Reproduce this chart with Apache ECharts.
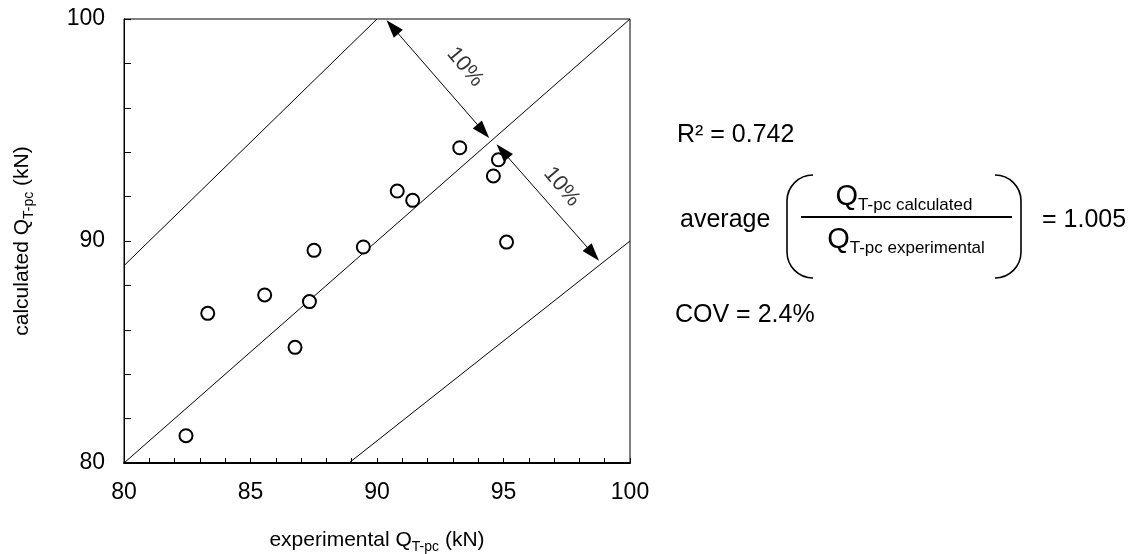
<!DOCTYPE html>
<html>
<head>
<meta charset="utf-8">
<script src="https://cdn.jsdelivr.net/npm/echarts@6/dist/echarts.min.js"></script>
<style>
html,body{margin:0;padding:0;background:#fff;}
#chart{width:1133px;height:554px;}
</style>
</head>
<body>
<div id="chart"></div>
<script>
// ---- data ----
var experimental = [82.45, 83.31, 85.56, 86.76, 87.33, 87.51, 89.46, 90.80, 91.41, 93.27, 94.60, 94.80, 95.12];
var calculated   = [81.23, 86.74, 87.57, 85.21, 87.27, 89.58, 89.73, 92.25, 91.83, 94.20, 92.93, 93.66, 89.95];
var xTickLabels = [80, 85, 90, 95, 100];
var yTickLabels = [80, 90, 100];
var lineEqual = [[80, 80], [100, 100]];
var linePlus10 = [[80, 88.89], [90, 100]];
var lineMinus10 = [[88.89, 80], [100, 90]];
// arrow segments (arrowhead centres)
var arrowUpper = [[90.61, 99.64], [94.20, 94.94]];
var arrowLower = [[94.96, 94.05], [98.54, 89.42]];
var pctLabelPos = [[93.48, 97.84], [97.30, 92.45]];
var pctLabelText = '10%';
var statR2 = 'R² = 0.742';
var statAvg = '= 1.005';
var statCov = 'COV = 2.4%';

var FF = '"Liberation Sans", Arial, sans-serif';
var chart = echarts.init(document.getElementById('chart'));

function refLine(d) {
  return {
    type: 'line', data: d, symbol: 'none', silent: true, z: 1,
    lineStyle: { color: '#000', width: 1 }
  };
}

var subRich = {
  s: { fontSize: 14, fontFamily: FF, color: '#000', verticalAlign: 'bottom', lineHeight: 14 }
};

var option = {
  animation: false,
  backgroundColor: '#fff',
  grid: { left: 124, right: 503, top: 19, bottom: 91, outerBoundsMode: 'none', containLabel: false,
          show: true, borderColor: '#000', borderWidth: 1, backgroundColor: 'transparent' },
  xAxis: {
    type: 'value', min: 80, max: 100, interval: 1,
    name: 'experimental Q{s|T-pc} (kN)', nameLocation: 'middle', nameGap: 63,
    nameTextStyle: { fontSize: 21, fontFamily: FF, color: '#000', lineHeight: 28, rich: subRich },
    axisLine: { show: true, lineStyle: { color: '#000', width: 2 } },
    axisTick: { show: true, inside: true, length: 5, lineStyle: { color: '#000', width: 1 } },
    splitLine: { show: false },
    axisLabel: {
      fontSize: 23, fontFamily: FF, color: '#000', margin: 18, showMaxLabel: true, showMinLabel: true,
      formatter: function (v) { return xTickLabels.indexOf(v) >= 0 ? String(v) : ''; }
    }
  },
  yAxis: {
    type: 'value', min: 80, max: 100, interval: 2,
    name: 'calculated Q{s|T-pc} (kN)', nameLocation: 'middle', nameGap: 88, nameRotate: 90,
    nameTextStyle: { fontSize: 21, fontFamily: FF, color: '#000', lineHeight: 28, rich: subRich },
    axisLine: { show: true, lineStyle: { color: '#000', width: 1 } },
    axisTick: { show: true, inside: true, length: 7, lineStyle: { color: '#000', width: 1 } },
    splitLine: { show: false },
    axisLabel: {
      fontSize: 23, fontFamily: FF, color: '#000', margin: 19, showMaxLabel: true, showMinLabel: true,
      formatter: function (v) { return yTickLabels.indexOf(v) >= 0 ? String(v) : ''; }
    }
  },
  series: [
    refLine(lineEqual),
    refLine(linePlus10),
    refLine(lineMinus10),
    {
      type: 'scatter', z: 3,
      data: experimental.map(function (x, i) { return [x, calculated[i]]; }),
      symbol: 'circle', symbolSize: 13,
      itemStyle: { color: '#fff', borderColor: '#000', borderWidth: 2, opacity: 1 },
      markLine: {
        silent: true, symbol: ['triangle', 'triangle'], symbolSize: [12, 18],
        lineStyle: { color: '#000', width: 1, type: 'solid' },
        itemStyle: { color: '#000' },
        label: { show: false },
        data: [
          [{ coord: arrowUpper[0] }, { coord: arrowUpper[1] }],
          [{ coord: arrowLower[0] }, { coord: arrowLower[1] }]
        ]
      }
    },
    {
      type: 'scatter', z: 4, silent: true,
      data: pctLabelPos,
      symbolSize: 0,
      label: {
        show: true, position: 'inside', formatter: pctLabelText, rotate: -50,
        fontSize: 22, fontFamily: FF, color: '#000'
      }
    }
  ],
  graphic: [
    { type: 'text', x: 677, y: 135, style: { text: statR2, fontSize: 25, fontFamily: FF, fill: '#000', align: 'left', verticalAlign: 'middle' } },
    { type: 'text', x: 680, y: 220, style: { text: 'average', fontSize: 25, fontFamily: FF, fill: '#000', align: 'left', verticalAlign: 'middle' } },
    { type: 'text', x: 1042, y: 220, style: { text: statAvg, fontSize: 25, fontFamily: FF, fill: '#000', align: 'left', verticalAlign: 'middle' } },
    { type: 'text', x: 675, y: 315, style: { text: statCov, fontSize: 25, fontFamily: FF, fill: '#000', align: 'left', verticalAlign: 'middle' } },
    { type: 'text', x: 904, y: 197, style: {
        text: '{q|Q}{s|T-pc calculated}', align: 'center', verticalAlign: 'middle', fill: '#000',
        rich: { q: { fontSize: 29, fontFamily: FF, lineHeight: 34 }, s: { fontSize: 17, fontFamily: FF, lineHeight: 17, verticalAlign: 'bottom' } } } },
    { type: 'text', x: 906, y: 240, style: {
        text: '{q|Q}{s|T-pc experimental}', align: 'center', verticalAlign: 'middle', fill: '#000',
        rich: { q: { fontSize: 29, fontFamily: FF, lineHeight: 34 }, s: { fontSize: 17, fontFamily: FF, lineHeight: 17, verticalAlign: 'bottom' } } } },
    { type: 'line', shape: { x1: 801, y1: 217, x2: 1012, y2: 217 }, style: { stroke: '#000', lineWidth: 2 } },
    // left parenthesis
    { type: 'arc', shape: { cx: 813, cy: 201, r: 26, startAngle: Math.PI, endAngle: Math.PI * 1.5, clockwise: true }, style: { stroke: '#000', fill: null, lineWidth: 1.6 } },
    { type: 'line', shape: { x1: 787, y1: 201, x2: 787, y2: 252 }, style: { stroke: '#000', lineWidth: 1.6 } },
    { type: 'arc', shape: { cx: 813, cy: 252, r: 26, startAngle: Math.PI * 0.5, endAngle: Math.PI, clockwise: true }, style: { stroke: '#000', fill: null, lineWidth: 1.6 } },
    // right parenthesis
    { type: 'arc', shape: { cx: 995, cy: 201, r: 26, startAngle: Math.PI * 1.5, endAngle: Math.PI * 2, clockwise: true }, style: { stroke: '#000', fill: null, lineWidth: 1.6 } },
    { type: 'line', shape: { x1: 1021, y1: 201, x2: 1021, y2: 252 }, style: { stroke: '#000', lineWidth: 1.6 } },
    { type: 'arc', shape: { cx: 995, cy: 252, r: 26, startAngle: 0, endAngle: Math.PI * 0.5, clockwise: true }, style: { stroke: '#000', fill: null, lineWidth: 1.6 } }
  ]
};
chart.setOption(option);
</script>
</body>
</html>
